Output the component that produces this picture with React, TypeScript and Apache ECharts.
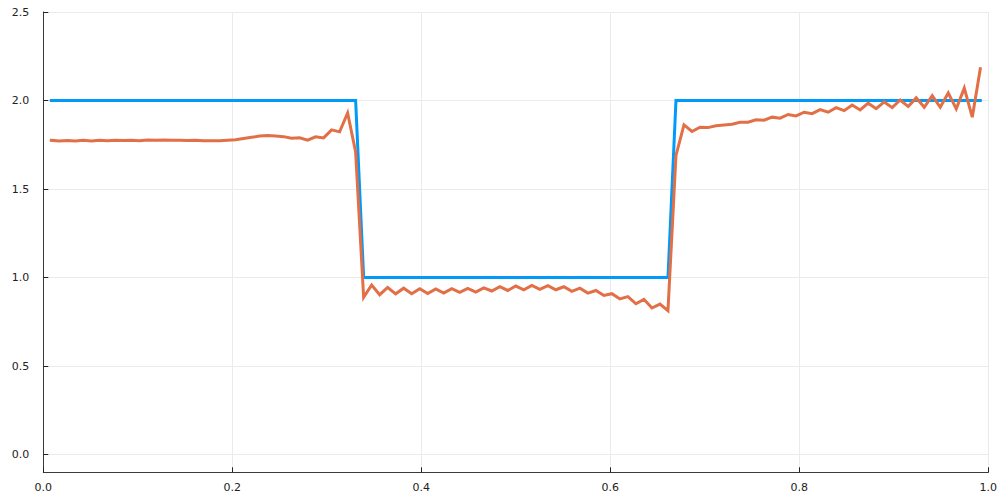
import React, { useEffect, useRef } from "react";
import * as echarts from "echarts";

// x grid: interior points i/118, i = 1..117
const N_CELLS = 118;
const xValues: number[] = Array.from({ length: N_CELLS - 1 }, (_, k) => (k + 1) / N_CELLS);

// exact (step) solution
const exactValues: number[] = [
  2, 2, 2, 2, 2, 2, 2, 2, 2, 2, 2, 2, 2, 2, 2, 2, 2, 2, 2, 2, 2, 2, 2, 2, 2, 2, 2, 2, 2, 2, 2, 2, 2, 2, 2, 2, 2, 2, 2,
  1, 1, 1, 1, 1, 1, 1, 1, 1, 1, 1, 1, 1, 1, 1, 1, 1, 1, 1, 1, 1, 1, 1, 1, 1, 1, 1, 1, 1, 1, 1, 1, 1, 1, 1, 1, 1, 1, 1,
  2, 2, 2, 2, 2, 2, 2, 2, 2, 2, 2, 2, 2, 2, 2, 2, 2, 2, 2, 2, 2, 2, 2, 2, 2, 2, 2, 2, 2, 2, 2, 2, 2, 2, 2, 2, 2, 2, 2,
];

// numerical solution
const approxLeft: number[] = [
  1.775, 1.772, 1.774, 1.772, 1.775, 1.772, 1.775, 1.773, 1.776, 1.774,
  1.775, 1.773, 1.777, 1.775, 1.777, 1.775, 1.776, 1.774, 1.775, 1.773,
  1.773, 1.773, 1.775, 1.778, 1.785, 1.792, 1.799, 1.802, 1.799, 1.796,
  1.787, 1.789, 1.776, 1.795, 1.789, 1.834, 1.823, 1.93, 1.71,
];
const approxMiddle: number[] = [
  0.888, 0.958, 0.903, 0.944, 0.908, 0.94, 0.909, 0.937, 0.91, 0.936,
  0.912, 0.937, 0.917, 0.939, 0.918, 0.942, 0.924, 0.948, 0.927, 0.952,
  0.931, 0.956, 0.933, 0.954, 0.931, 0.948, 0.922, 0.94, 0.912, 0.927,
  0.899, 0.909, 0.879, 0.892, 0.852, 0.877, 0.828, 0.85, 0.813,
];
const approxRight: number[] = [
  1.69, 1.862, 1.825, 1.849, 1.847, 1.857, 1.862, 1.866, 1.877, 1.877,
  1.891, 1.889, 1.906, 1.9, 1.921, 1.913, 1.934, 1.926, 1.949, 1.934,
  1.96, 1.943, 1.975, 1.947, 1.985, 1.954, 1.992, 1.96, 2.003, 1.966,
  2.015, 1.962, 2.028, 1.962, 2.043, 1.953, 2.07, 1.906, 2.18,
];
const approxValues: number[] = [...approxLeft, ...approxMiddle, ...approxRight];

const xTicks = [0, 0.2, 0.4, 0.6, 0.8, 1.0];
const yTicks = [0, 0.5, 1.0, 1.5, 2.0, 2.5];

const BLUE = "#009AFA";
const ORANGE = "#E26F46";
const FONT = "DejaVu Sans";

export default function App() {
  const ref = useRef<HTMLDivElement>(null);
  useEffect(() => {
    if (!ref.current) return;
    const chart = echarts.init(ref.current, undefined, { renderer: "svg" });
    const gridLine = { show: true, lineStyle: { color: "#ebebeb", width: 1 } };
    chart.setOption({
      animation: false,
      backgroundColor: "#ffffff",
      grid: { left: 43.3, right: 11.7, top: 12, bottom: 27.7, containLabel: false, outerBoundsMode: "none" },
      xAxis: {
        type: "value",
        min: 0,
        max: 1,
        interval: 0.2,
        axisLine: { show: true, onZero: false, lineStyle: { color: "#3a3a3a", width: 1 } },
        axisTick: { show: true, inside: true, length: 5, lineStyle: { color: "#222", width: 1 }, customValues: xTicks },
        axisLabel: {
          show: true,
          customValues: xTicks,
          formatter: (v: number) => v.toFixed(1),
          fontFamily: FONT,
          fontSize: 11,
          color: "#222",
          margin: 10,
        },
        splitLine: gridLine,
      },
      yAxis: {
        type: "value",
        min: -0.1,
        max: 2.5,
        axisLine: { show: true, onZero: false, lineStyle: { color: "#3a3a3a", width: 1 } },
        axisTick: { show: true, inside: true, length: 5, lineStyle: { color: "#222", width: 1 }, customValues: yTicks },
        axisLabel: {
          show: true,
          customValues: yTicks,
          formatter: (v: number) => v.toFixed(1),
          fontFamily: FONT,
          fontSize: 11,
          color: "#222",
          margin: 14,
        },
        splitLine: gridLine,
      },
      series: [
        {
          type: "line",
          data: xValues.map((x, i) => [x, exactValues[i]]),
          showSymbol: false,
          lineStyle: { color: BLUE, width: 3, cap: "square", join: "miter" },
          itemStyle: { color: BLUE },
          z: 2,
        },
        {
          type: "line",
          data: xValues.map((x, i) => [x, approxValues[i]]),
          showSymbol: false,
          lineStyle: { color: ORANGE, width: 3, cap: "square", join: "miter" },
          itemStyle: { color: ORANGE },
          z: 3,
        },
      ],
    });
    return () => chart.dispose();
  }, []);
  return (
    <div
      ref={ref}
      style={{ position: "absolute", left: 0, top: 0, width: 1000, height: 500, background: "#fff" }}
    />
  );
}
